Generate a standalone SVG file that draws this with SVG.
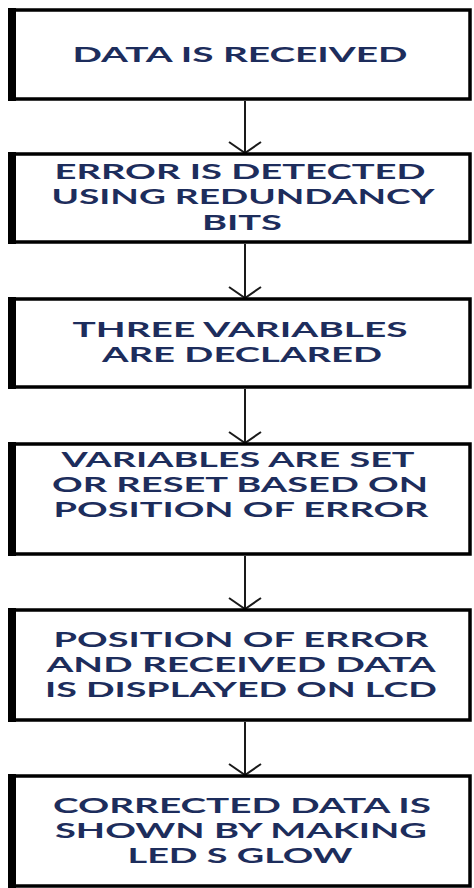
<svg xmlns="http://www.w3.org/2000/svg" width="474" height="888" viewBox="0 0 474 888">
  <style>
    .box { fill: #ffffff; stroke: #000000; stroke-width: 3.5; }
    .bar { fill: #000000; }
    .label { font-family: Lato, "Open Sans", "Liberation Sans", sans-serif; font-weight: bold; font-size: 21px; fill: #1d2d5c; text-anchor: middle; }
    .edge { stroke: #1a1a1a; stroke-width: 2; fill: none; }
    .head { stroke: #1a1a1a; stroke-width: 2; fill: none; stroke-linejoin: miter; }
  </style>

  <!-- connectors: vertical lines ending in open V heads -->
  <g id="connectors">
    <line class="edge" x1="245" y1="101" x2="245" y2="153"/>
    <polyline class="head" points="229,142 245,153 261,142"/>
    <line class="edge" x1="245" y1="244" x2="245" y2="298"/>
    <polyline class="head" points="229,287 245,298 261,287"/>
    <line class="edge" x1="245" y1="389" x2="245" y2="443"/>
    <polyline class="head" points="229,432 245,443 261,432"/>
    <line class="edge" x1="245" y1="556" x2="245" y2="609"/>
    <polyline class="head" points="229,598 245,609 261,598"/>
    <line class="edge" x1="245" y1="722" x2="245" y2="775"/>
    <polyline class="head" points="229,764 245,775 261,764"/>
  </g>

  <g id="n1">
    <rect class="box" x="10" y="10" width="460" height="89"/>
    <rect class="bar" x="8" y="8" width="8" height="93"/>
    <text class="label" x="240" y="62" textLength="335" lengthAdjust="spacingAndGlyphs">DATA IS RECEIVED</text>
  </g>

  <g id="n2">
    <rect class="box" x="10" y="154" width="460" height="88"/>
    <rect class="bar" x="8" y="152" width="8" height="92"/>
    <text class="label" x="240" y="179" textLength="371" lengthAdjust="spacingAndGlyphs">ERROR IS DETECTED</text>
    <text class="label" x="243" y="204" textLength="383" lengthAdjust="spacingAndGlyphs">USING REDUNDANCY</text>
    <text class="label" x="242" y="230" textLength="80" lengthAdjust="spacingAndGlyphs">BITS</text>
  </g>

  <g id="n3">
    <rect class="box" x="10" y="299" width="460" height="88"/>
    <rect class="bar" x="8" y="297" width="8" height="92"/>
    <text class="label" x="240" y="337" textLength="335" lengthAdjust="spacingAndGlyphs">THREE VARIABLES</text>
    <text class="label" x="242" y="362" textLength="280" lengthAdjust="spacingAndGlyphs">ARE DECLARED</text>
  </g>

  <g id="n4">
    <rect class="box" x="10" y="444" width="460" height="110"/>
    <rect class="bar" x="8" y="442" width="8" height="114"/>
    <text class="label" x="238" y="467" textLength="353" lengthAdjust="spacingAndGlyphs">VARIABLES ARE SET</text>
    <text class="label" x="240" y="492" textLength="376" lengthAdjust="spacingAndGlyphs">OR RESET BASED ON</text>
    <text class="label" x="241" y="517" textLength="375" lengthAdjust="spacingAndGlyphs">POSITION OF ERROR</text>
  </g>

  <g id="n5">
    <rect class="box" x="10" y="610" width="460" height="110"/>
    <rect class="bar" x="8" y="608" width="8" height="114"/>
    <text class="label" x="241" y="647" textLength="375" lengthAdjust="spacingAndGlyphs">POSITION OF ERROR</text>
    <text class="label" x="241" y="672" textLength="389" lengthAdjust="spacingAndGlyphs">AND RECEIVED DATA</text>
    <text class="label" x="241" y="697" textLength="392" lengthAdjust="spacingAndGlyphs">IS DISPLAYED ON LCD</text>
  </g>

  <g id="n6">
    <rect class="box" x="10" y="776" width="460" height="110"/>
    <rect class="bar" x="8" y="774" width="8" height="114"/>
    <text class="label" x="242" y="813" textLength="378" lengthAdjust="spacingAndGlyphs">CORRECTED DATA IS</text>
    <text class="label" x="241" y="838" textLength="372" lengthAdjust="spacingAndGlyphs">SHOWN BY MAKING</text>
    <text class="label" x="240" y="863" textLength="225" lengthAdjust="spacingAndGlyphs">LED S GLOW</text>
  </g>
</svg>
